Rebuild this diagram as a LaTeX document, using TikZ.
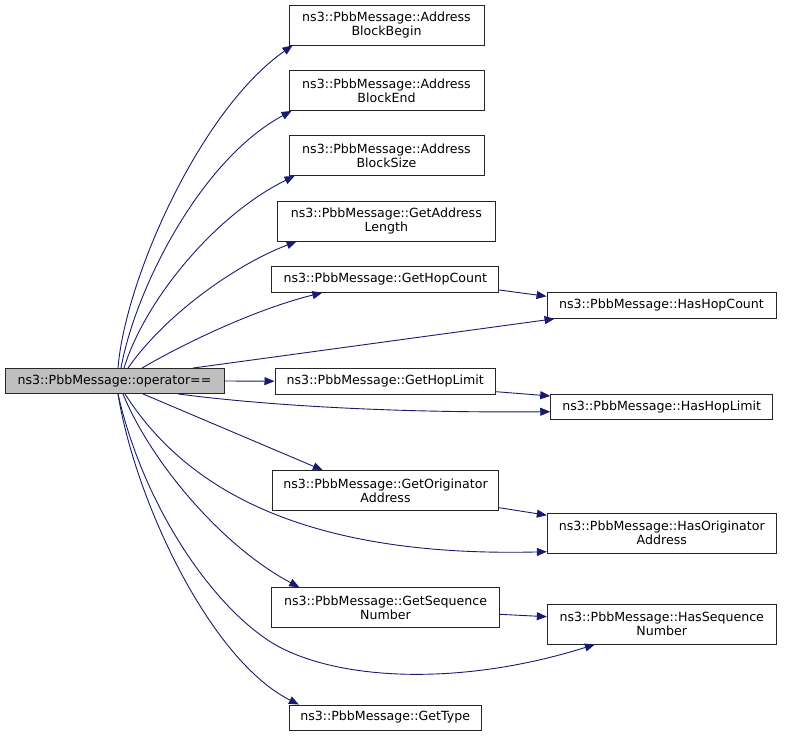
\documentclass[tikz,border=0pt]{standalone}
\usepackage{fontspec}
\setmainfont{DejaVu Sans}
\usetikzlibrary{arrows.meta}
\definecolor{edgeblue}{HTML}{191970}
\definecolor{maingrey}{HTML}{BFBFBF}
\begin{document}
\begin{tikzpicture}[x=1pt,y=-1pt,
 box/.style={draw=black!85, line width=0.9pt, fill=white, inner sep=0pt, align=center, font=\fontsize{12.6}{14}\selectfont},
 edge/.style={draw=edgeblue, line width=0.9pt, -{Triangle[length=10pt,width=8pt]}}]
\useasboundingbox (0,0) rectangle (787,736);

\node[box, fill=maingrey, minimum width=219pt, minimum height=25pt] (main) at (114.5,381) {ns3::PbbMessage::operator==};
\node[box, minimum width=195pt, minimum height=40pt] (ABB) at (386.5,25) {ns3::PbbMessage::Address\\BlockBegin};
\node[box, minimum width=195pt, minimum height=40pt] (ABE) at (386.5,90.5) {ns3::PbbMessage::Address\\BlockEnd};
\node[box, minimum width=195pt, minimum height=40pt] (ABS) at (386.5,155.5) {ns3::PbbMessage::Address\\BlockSize};
\node[box, minimum width=217.5pt, minimum height=40pt] (GAL) at (386.3,221) {ns3::PbbMessage::GetAddress\\Length};
\node[box, minimum width=227pt, minimum height=25.5pt] (GHC) at (385.3,279.5) {ns3::PbbMessage::GetHopCount};
\node[box, minimum width=229pt, minimum height=26pt] (HHC) at (661.5,305.3) {ns3::PbbMessage::HasHopCount};
\node[box, minimum width=220.7pt, minimum height=25.7pt] (GHL) at (385.3,381.2) {ns3::PbbMessage::GetHopLimit};
\node[box, minimum width=222pt, minimum height=25.3pt] (HHL) at (661.7,406.7) {ns3::PbbMessage::HasHopLimit};
\node[box, minimum width=226.4pt, minimum height=40pt] (GOA) at (385.5,490.7) {ns3::PbbMessage::GetOriginator\\Address};
\node[box, minimum width=229pt, minimum height=40.3pt] (HOA) at (661.8,533.2) {ns3::PbbMessage::HasOriginator\\Address};
\node[box, minimum width=227.6pt, minimum height=40pt] (GSN) at (385.5,607.7) {ns3::PbbMessage::GetSequence\\Number};
\node[box, minimum width=229pt, minimum height=40pt] (HSN) at (661.8,624) {ns3::PbbMessage::HasSequence\\Number};
\node[box, minimum width=191.7pt, minimum height=25pt] (GT) at (385.2,717.5) {ns3::PbbMessage::GetType};

\coordinate (hsnmid) at (262,636);

\draw[edge] ([xshift=3.5pt]main.north) .. controls (125,280) and (200,110) .. ([xshift=4pt]ABB.south west);
\draw[edge] ([xshift=6.5pt]main.north) .. controls (135,290) and (200,160) .. ([xshift=3pt]ABE.south west);
\draw[edge] ([xshift=9.5pt]main.north) .. controls (145,300) and (215,215) .. ([xshift=6pt]ABS.south west);
\draw[edge] ([xshift=13.5pt]main.north) .. controls (165,315) and (235,265) .. ([xshift=19.5pt]GAL.south west);
\draw[edge] ([xshift=27.5pt]main.north) .. controls (190,340) and (260,308) .. ([xshift=51pt]GHC.south west);
\draw[edge] ([xshift=78.5pt]main.north) -- ([xshift=8pt]HHC.south west);
\draw[edge] (main.east) -- (GHL.west);
\draw[edge] ([xshift=63.5pt]main.south) .. controls (270,406) and (400,413) .. ([yshift=-5pt]HHL.west);
\draw[edge] ([yshift=-10.5pt]GHC.east) -- ([yshift=9pt]HHC.west);
\draw[edge] ([yshift=-10.5pt]GHL.east) -- ([yshift=10.7pt]HHL.west);
\draw[edge] ([xshift=28.5pt]main.south) -- ([xshift=51pt]GOA.north west);
\draw[edge] ([xshift=10.5pt]main.south) .. controls (180,480) and (290,558) .. ([yshift=-18.5pt]HOA.west);
\draw[edge] ([yshift=-17pt]GOA.east) -- ([yshift=18pt]HOA.west);
\draw[edge] ([xshift=8.5pt]main.south) .. controls (150,460) and (220,545) .. ([xshift=28pt]GSN.north west);
\draw[edge] ([xshift=3.5pt]main.south) .. controls (142,500) and (205,595) .. (hsnmid) .. controls (319,679) and (450,690) .. ([xshift=48pt]HSN.south west);
\draw[edge] ([yshift=-6.6pt]GSN.east) -- ([yshift=7.3pt]HSN.west);
\draw[edge] ([xshift=3.5pt]main.south) .. controls (135,500) and (210,660) .. ([xshift=10pt]GT.north west);
\end{tikzpicture}
\end{document}
